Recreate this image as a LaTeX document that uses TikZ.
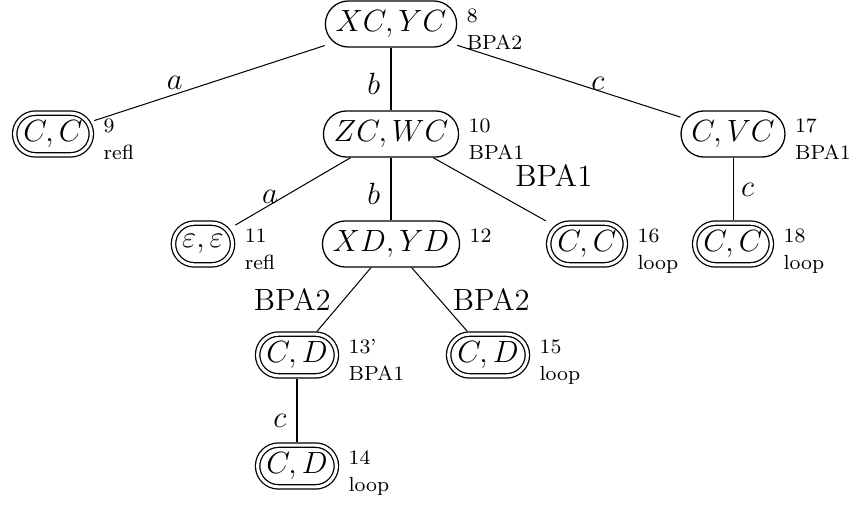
\documentclass[tikz,border=0pt]{standalone}
\begin{document}
\begin{tikzpicture}[x=0.3906pt,y=-0.3906pt,
  st/.style={draw, line width=0.5pt, rectangle, rounded corners=9pt, minimum height=18pt, inner xsep=4pt, inner ysep=0pt, font=\large},
  acc/.style={st, double, double distance=1.2pt, rounded corners=8.15pt, minimum height=16.3pt, inner xsep=3.4pt, outer sep=1.1pt},
  lab/.style={font=\fontsize{8}{10.5}\selectfont, align=left, anchor=north west, inner sep=2pt, xshift=1.5pt, yshift=-1pt},
  el/.style={font=\large, inner sep=1.5pt}]
\useasboundingbox (0,0) rectangle (850,508);
\node[st]  (r)   at (391,24)  [label={[lab]north east:{8\\BPA2}}] {$XC,YC$};
\node[acc] (l1)  at (53,134)  [label={[lab]north east:{9\\refl}}] {$C,C$};
\node[st]  (z)   at (391,134) [label={[lab]north east:{10\\BPA1}}] {$ZC,WC$};
\node[st]  (v)   at (733,134) [label={[lab]north east:{17\\BPA1}}] {$C,VC$};
\node[acc] (e)   at (203,244) [label={[lab]north east:{11\\refl}}] {$\varepsilon,\varepsilon$};
\node[st]  (x)   at (391,244) [label={[lab]north east:{12}}] {$XD,YD$};
\node[acc] (c16) at (587,244) [label={[lab]north east:{16\\loop}}] {$C,C$};
\node[acc] (c18) at (733,244) [label={[lab]north east:{18\\loop}}] {$C,C$};
\node[acc] (d13) at (297,355) [label={[lab]north east:{13'\\BPA1}}] {$C,D$};
\node[acc] (d15) at (488,355) [label={[lab]north east:{15\\loop}}] {$C,D$};
\node[acc] (d14) at (297,466) [label={[lab]north east:{14\\loop}}] {$C,D$};
\draw (r) -- node[el, pos=0.65, above] {$a$} (l1);
\draw (r) -- node[el, pos=0.58, left, inner sep=4pt] {$b$} (z);
\draw (r) -- node[el, pos=0.63, above, inner sep=0pt] {$c$} (v);
\draw (z) -- node[el, pos=0.70, above, inner sep=0.5pt] {$a$} (e);
\draw (z) -- node[el, pos=0.58, left, inner sep=4pt] {$b$} (x);
\draw (z) -- node[el, pos=0.68, anchor=south west, inner sep=0.5pt, yshift=5pt, xshift=1.5pt] {BPA1} (c16);
\draw (v) -- node[el, pos=0.52, right, inner sep=3pt] {$c$} (c18);
\draw (x) -- node[el, pos=0.5, left, inner sep=5pt] {BPA2} (d13);
\draw (x) -- node[el, pos=0.5, right, inner sep=5pt] {BPA2} (d15);
\draw (d13) -- node[el, pos=0.66, left, inner sep=4pt] {$c$} (d14);
\end{tikzpicture}
\end{document}
